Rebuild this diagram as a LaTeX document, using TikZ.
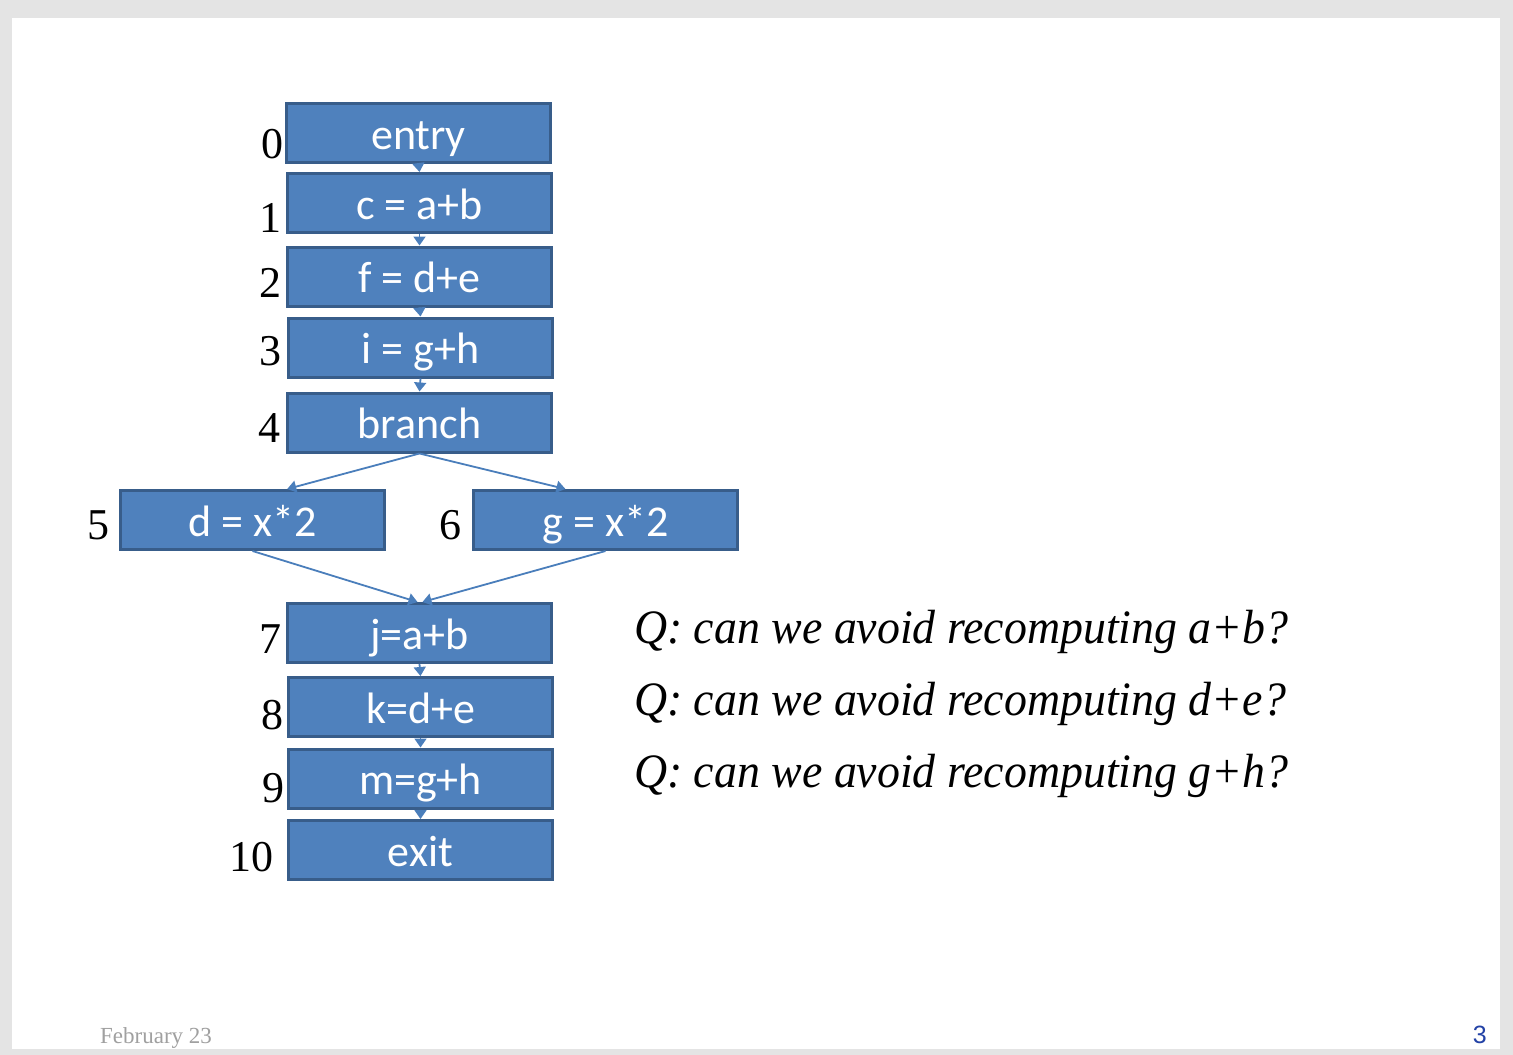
\documentclass[tikz,border=0pt]{standalone}
\usepackage{fontspec}
\setmainfont{Liberation Serif}
\newfontfamily\boxfont{Carlito}
\newfontfamily\pagefont{Liberation Sans}
\newfontfamily\qfont[FakeStretch=0.955]{Liberation Serif Italic}
\usetikzlibrary{arrows.meta,calc}
\definecolor{bg}{HTML}{E4E4E4}
\definecolor{boxfill}{HTML}{4F81BD}
\definecolor{boxline}{HTML}{385D8A}
\definecolor{arrowc}{HTML}{4A7EBB}
\definecolor{footgray}{HTML}{A0A0A0}
\definecolor{pageblue}{HTML}{2342A6}
\begin{document}
\begin{tikzpicture}[x=1pt,y=-1pt,
  blk/.style={draw=boxline, fill=boxfill, line width=3pt, minimum width=264pt, minimum height=59pt,
    inner sep=0pt, text height=32pt, text depth=0pt, text=white, font=\boxfont\fontsize{44}{50}\selectfont},
  num/.style={anchor=base east, inner sep=0pt, font=\fontsize{44}{50}\selectfont},
  qtext/.style={anchor=base west, inner sep=0pt, font=\qfont\fontsize{48}{56}\selectfont},
  flow/.style={draw=arrowc, line width=1.8pt, -{Triangle[width=12pt,length=9pt]}}]
\useasboundingbox (0,0) rectangle (1513,1055);
\fill[bg] (0,0) rectangle (1513,1055);
\fill[white] (12,18) rectangle (1500,1049);

\node[blk] (n0) at (418.5,133) {entry};
\node[blk] (n1) at (419.5,203) {c = a+b};
\node[blk] (n2) at (419.5,276.5) {f = d+e};
\node[blk] (n3) at (420.5,347.5) {i = g+h};
\node[blk] (n4) at (419.5,422.5) {branch};
\node[blk] (n5) at (252.5,520) {d = x*2};
\node[blk] (n6) at (605.5,520) {g = x*2};
\node[blk] (n7) at (419.5,633) {j=a+b};
\node[blk] (n8) at (420.5,707) {k=d+e};
\node[blk] (n9) at (420.5,778.5) {m=g+h};
\node[blk] (n10) at (420.5,850) {exit};

\node[num] (l0) at (284,158) {0};
\node[num] (l1) at (282,232) {1};
\node[num] (l2) at (282,297) {2};
\node[num] (l3) at (282,365) {3};
\node[num] (l4) at (281,442) {4};
\node[num] (l5) at (110,539) {5};
\node[num] (l6) at (462,539) {6};
\node[num] (l7) at (282,653) {7};
\node[num] (l8) at (284,729) {8};
\node[num] (l9) at (285,802) {9};
\node[num] (l10) at (274,871) {10};

\draw[flow] (n0.south) -- (n1.north);
\draw[flow] (n1.south) -- (n2.north);
\draw[flow] (n2.south) -- (n3.north);
\draw[flow] (n3.south) -- (n4.north);
\draw[flow] (n4.south) -- ($(n5.north west)!0.63!(n5.north east)$);
\draw[flow] (n4.south) -- ($(n6.north west)!0.35!(n6.north east)$);
\draw[flow] (n5.south) -- ($(n7.north)+(-2,0)$);
\draw[flow] (n6.south) -- ($(n7.north)+(3,0)$);
\draw[flow] (n7.south) -- (n8.north);
\draw[flow] (n8.south) -- (n9.north);
\draw[flow] (n9.south) -- (n10.north);

\node[qtext] (q1) at (634,643) {Q: can we avoid recomputing a+b?};
\node[qtext] (q2) at (634,715) {Q: can we avoid recomputing d+e?};
\node[qtext] (q3) at (634,787) {Q: can we avoid recomputing g+h?};

\node[anchor=base west, inner sep=0pt, text=footgray, font=\fontsize{23}{27}\selectfont] (foot) at (100,1043) {February 23};
\node[anchor=base east, inner sep=0pt, text=pageblue, font=\pagefont\fontsize{25}{30}\selectfont] (page) at (1487,1043) {3};
\end{tikzpicture}
\end{document}
